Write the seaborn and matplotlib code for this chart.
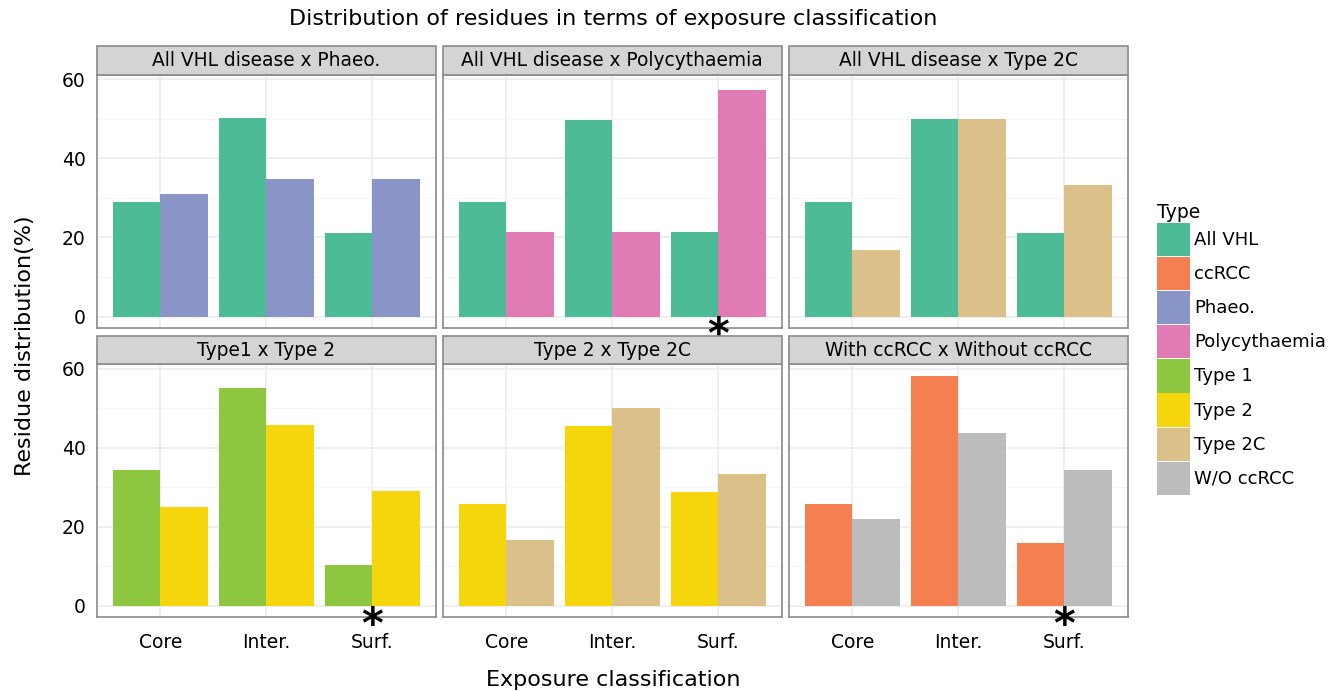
import matplotlib
matplotlib.use("Agg")
import matplotlib.pyplot as plt
import seaborn as sns
import pandas as pd
from matplotlib.patches import Patch, Rectangle
from matplotlib.ticker import MultipleLocator

# ---------------- data ----------------
categories = ["Core", "Inter.", "Surf."]
types = ["All VHL", "ccRCC", "Phaeo.", "Polycythaemia", "Type 1", "Type 2", "Type 2C", "W/O ccRCC"]
type_colors = ["#4dbb96", "#f47f50", "#8895c6", "#e07bb6", "#8dc63f", "#f5d50c", "#dcc089", "#bcbcbc"]

panel_titles = [
    "All VHL disease x Phaeo.",
    "All VHL disease x Polycythaemia",
    "All VHL disease x Type 2C",
    "Type1 x Type 2",
    "Type 2 x Type 2C",
    "With ccRCC x Without ccRCC",
]
panel_first_type = ["All VHL", "All VHL", "All VHL", "Type 1", "Type 2", "ccRCC"]
panel_second_type = ["Phaeo.", "Polycythaemia", "Type 2C", "Type 2", "Type 2C", "W/O ccRCC"]
first_values = [
    [28.9, 50.1, 21.0],
    [28.9, 49.6, 21.3],
    [28.9, 50.0, 21.0],
    [34.5, 55.2, 10.3],
    [25.9, 45.5, 28.8],
    [25.9, 58.2, 16.0],
]
second_values = [
    [30.9, 34.7, 34.7],
    [21.3, 21.3, 57.2],
    [16.7, 50.0, 33.3],
    [25.0, 45.8, 29.2],
    [16.7, 50.0, 33.3],
    [22.0, 43.8, 34.4],
]
star_panels = [1, 3, 5]
star_category = "Surf."

y_ticks = [0, 20, 40, 60]

# ---------------- figure ----------------
sns.set_style("white")
plt.rcParams["font.family"] = ["DejaVu Sans"]
plt.rcParams["text.color"] = "black"
plt.rcParams["mathtext.fontset"] = "dejavusans"

palette = dict(zip(types, type_colors))

fig, axes = plt.subplots(2, 3, figsize=(13.41, 6.91), dpi=100, sharex=True, sharey=True)
fig.subplots_adjust(left=0.0723, right=0.841, top=0.8915, bottom=0.1064,
                    wspace=0.021, hspace=0.144)

for i, ax in enumerate(axes.flat):
    rows = []
    for c, v1, v2 in zip(categories, first_values[i], second_values[i]):
        rows.append({"Exposure": c, "Type": panel_first_type[i], "Value": v1})
        rows.append({"Exposure": c, "Type": panel_second_type[i], "Value": v2})
    df = pd.DataFrame(rows)
    sns.barplot(data=df, x="Exposure", y="Value", hue="Type", order=categories,
                hue_order=[panel_first_type[i], panel_second_type[i]],
                palette=palette, saturation=1, width=0.9, errorbar=None,
                legend=False, ax=ax, linewidth=0)
    ax.set_xlim(-0.6, 2.6)
    ax.set_ylim(-2.91, 61.1)
    ax.set_yticks(y_ticks)
    ax.yaxis.set_minor_locator(MultipleLocator(10))
    ax.set_axisbelow(True)
    ax.grid(which="major", color="#ebebeb", lw=1.1)
    ax.grid(which="minor", axis="y", color="#f5f5f5", lw=0.7)
    for s in ax.spines.values():
        s.set_color("#8a8a8a")
        s.set_linewidth(1.2)
    ax.set_xlabel("")
    ax.set_ylabel("")
    ax.tick_params(axis="both", which="major", length=5, width=1.2, color="#333333",
                   labelsize=13.5, labelcolor="black", pad=3)
    ax.tick_params(axis="x", which="major", pad=6)
    ax.tick_params(axis="y", which="minor", length=0)
    r = i // 3
    if r == 0:
        ax.tick_params(axis="x", length=0)
    # strip
    strip_h = 0.113
    ax.add_patch(Rectangle((0, 1.0), 1, strip_h, transform=ax.transAxes,
                           facecolor="#d4d4d4", edgecolor="#8a8a8a", lw=1.2,
                           clip_on=False, zorder=5))
    ax.text(0.5, 1.0 + strip_h / 2, panel_titles[i], transform=ax.transAxes,
            ha="center", va="center", fontsize=13.4, color="black", zorder=6)
    if i in star_panels:
        ax.annotate(r"$\mathbf{*}$", xy=(categories.index(star_category), -2.91),
                    xycoords="data", xytext=(0, -4.5), textcoords="offset points",
                    ha="center", va="center", fontsize=30, color="black",
                    annotation_clip=False, zorder=7)

fig.text(0.4575, 0.972, "Distribution of residues in terms of exposure classification",
         ha="center", va="center", fontsize=16)
fig.text(0.4575, 0.016, "Exposure classification", ha="center", va="center", fontsize=16)
fig.text(0.019, 0.5, "Residue distribution(%)", ha="center", va="center",
         rotation=90, fontsize=16)

handles = [Patch(facecolor=c, edgecolor="none", label=t) for t, c in zip(types, type_colors)]
leg = fig.legend(handles=handles, loc="upper left", bbox_to_anchor=(0.8628, 0.706),
                 frameon=False, title="Type", fontsize=13, title_fontsize=13.5,
                 handlelength=1.85, handleheight=2.45, labelspacing=0.05,
                 handletextpad=0.2, borderaxespad=0, borderpad=0)
leg._legend_box.align = "left"

fig.savefig("out.png", dpi=100)
